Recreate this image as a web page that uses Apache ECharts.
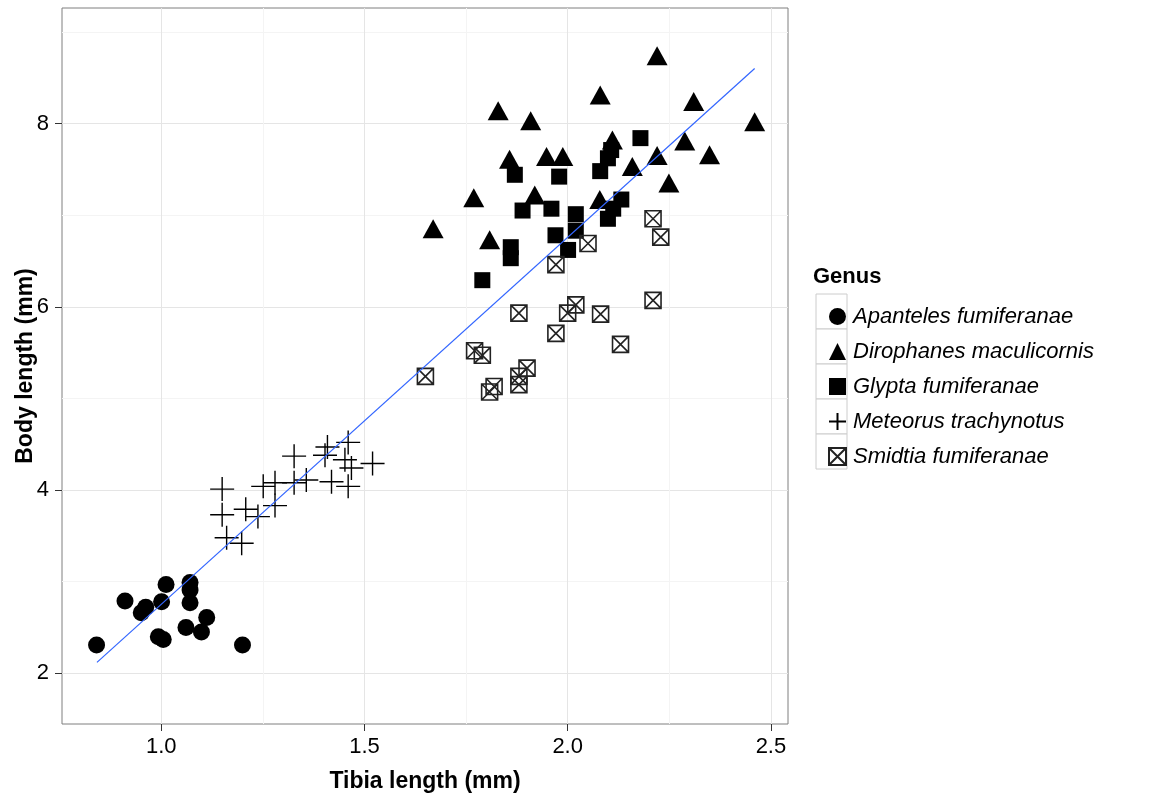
<!DOCTYPE html>
<html>
<head>
<meta charset="utf-8">
<script src="https://cdn.jsdelivr.net/npm/echarts@6/dist/echarts.min.js"></script>
<style>
html,body{margin:0;padding:0;background:#fff;}
#chart{width:1157px;height:799px;}
</style>
</head>
<body>
<div id="chart"></div>
<script>
// ---- Data (tibia length mm, body length mm) ----
const apantelesX = [0.841,0.911,0.951,0.962,1.012,1.001,0.993,1.005,1.061,1.071,1.071,1.071,1.099,1.112,1.200];
const apantelesY = [2.31,2.79,2.66,2.72,2.97,2.78,2.40,2.37,2.50,2.99,2.91,2.77,2.45,2.61,2.31];

const dirophanesX = [1.669,1.769,1.808,1.829,1.857,1.909,1.919,1.948,1.988,2.079,2.080,2.110,2.159,2.220,2.220,2.249,2.288,2.310,2.349,2.460];
const dirophanesY = [6.85,7.19,6.73,8.14,7.61,8.03,7.22,7.64,7.64,7.17,8.31,7.82,7.53,8.74,7.65,7.35,7.81,8.24,7.66,8.02];

const glyptaX = [1.790,1.860,1.860,1.870,1.889,1.960,1.970,1.979,2.001,2.020,2.020,2.080,2.099,2.107,2.099,2.112,2.132,2.179];
const glyptaY = [6.29,6.65,6.53,7.44,7.05,7.07,6.78,7.42,6.62,7.01,6.83,7.48,7.62,7.71,6.96,7.07,7.17,7.84];

const meteorusX = [1.150,1.150,1.161,1.198,1.208,1.238,1.251,1.280,1.280,1.327,1.327,1.357,1.409,1.403,1.419,1.460,1.452,1.468,1.460,1.520];
const meteorusY = [4.01,3.73,3.48,3.42,3.79,3.71,4.04,4.08,3.83,4.37,4.08,4.11,4.47,4.38,4.09,4.52,4.33,4.24,4.04,4.29];

const smidtiaX = [1.650,1.771,1.790,1.808,1.819,1.880,1.880,1.880,1.900,1.971,1.971,2.000,2.020,2.050,2.081,2.130,2.210,2.210,2.229];
const smidtiaY = [5.24,5.52,5.47,5.07,5.13,5.93,5.24,5.15,5.33,6.46,5.71,5.93,6.02,6.69,5.92,5.59,6.96,6.07,6.76];

// fitted line endpoints
const fitX = [0.842, 2.460];
const fitY = [2.12, 8.60];

const genusNames = ['Apanteles fumiferanae','Dirophanes maculicornis','Glypta fumiferanae','Meteorus trachynotus','Smidtia fumiferanae'];
const xTicks = [1.0, 1.5, 2.0, 2.5];
const xMinor = [1.25, 1.75, 2.25];
const yTicks = [2, 4, 6, 8];
const yMinor = [3, 5, 7, 9];

const zip = (a, b) => a.map((v, i) => [v, b[i]]);

const XMIN = 0.756, XMAX = 2.542, YMIN = 1.447, YMAX = 9.26;
const FONT = 'Liberation Sans';

const plusPath = 'path://M10,0 L10,20 M0,10 L20,10';
const boxXPath = 'path://M0,0 L20,0 L20,20 L0,20 Z M0,0 L20,20 M20,0 L0,20';

const chart = echarts.init(document.getElementById('chart'), null, {renderer: 'canvas'});

const gridBox = {left: 62, top: 8, right: 369, bottom: 75};

const option = {
  animation: false,
  backgroundColor: '#fff',
  grid: Object.assign({show: true, borderColor: '#7f7f7f', borderWidth: 1, backgroundColor: 'transparent',
    containLabel: false, outerBoundsMode: 'none'}, gridBox),
  graphic: genusNames.map((n, i) => ({
    type: 'rect', z: 0, silent: true,
    shape: {x: 816, y: 294 + 35 * i, width: 31, height: 35},
    style: {fill: '#fff', stroke: '#cccccc', lineWidth: 1}
  })).concat([{
    type: 'text', left: 813, top: 266, z: 10,
    style: {text: 'Genus', font: 'bold 22px "Liberation Sans"', fill: '#000'}
  }]),
  legend: {
    orient: 'vertical', left: 823, top: 294,
    itemWidth: 17, itemHeight: 17, itemGap: 0,
    z: 5,
    data: genusNames,
    textStyle: {fontFamily: FONT, fontSize: 22, fontStyle: 'italic', color: '#000', lineHeight: 35, padding: [0,0,0,2]},
    selectedMode: false
  },
  xAxis: [{
    type: 'value', min: XMIN, max: XMAX, position: 'bottom',
    name: 'Tibia length (mm)', nameLocation: 'middle', nameGap: 46, nameMoveOverlap: false,
    nameTextStyle: {fontFamily: FONT, fontSize: 23, fontWeight: 'bold', color: '#000'},
    axisLine: {show: false},
    axisTick: {show: true, length: 7, customValues: xTicks, lineStyle: {color: '#333'}},
    axisLabel: {customValues: xTicks, fontFamily: FONT, fontSize: 22, color: '#000', margin: 12,
      formatter: v => v.toFixed(1)},
    splitLine: {show: true, lineStyle: {color: '#e5e5e5', width: 1}}
  }, {
    type: 'value', min: XMIN, max: XMAX, position: 'bottom',
    axisLine: {show: false}, axisLabel: {show: false},
    axisTick: {show: false, customValues: xMinor},
    splitLine: {show: true, lineStyle: {color: '#f4f4f4', width: 1}}
  }],
  yAxis: [{
    type: 'value', min: YMIN, max: YMAX,
    name: 'Body length (mm)', nameLocation: 'middle', nameGap: 25, nameRotate: 90, nameMoveOverlap: false,
    nameTextStyle: {fontFamily: FONT, fontSize: 23, fontWeight: 'bold', color: '#000'},
    axisLine: {show: false},
    axisTick: {show: true, length: 7, customValues: yTicks, lineStyle: {color: '#333'}},
    axisLabel: {customValues: yTicks, fontFamily: FONT, fontSize: 22, color: '#000', margin: 13},
    splitLine: {show: true, lineStyle: {color: '#e5e5e5', width: 1}}
  }, {
    type: 'value', min: YMIN, max: YMAX,
    axisLine: {show: false}, axisLabel: {show: false},
    axisTick: {show: false, customValues: yMinor},
    splitLine: {show: true, lineStyle: {color: '#f4f4f4', width: 1}}
  }],
  series: [
    {name: genusNames[0], type: 'scatter', data: zip(apantelesX, apantelesY), symbol: 'circle', symbolSize: 17,
      itemStyle: {color: '#000', opacity: 1}},
    {name: genusNames[1], type: 'scatter', data: zip(dirophanesX, dirophanesY), symbol: 'triangle', symbolSize: [21, 19],
      itemStyle: {color: '#000', opacity: 1}},
    {name: genusNames[2], type: 'scatter', data: zip(glyptaX, glyptaY), symbol: 'rect', symbolSize: 16,
      itemStyle: {color: '#000', opacity: 1}},
    {name: genusNames[3], type: 'scatter', data: zip(meteorusX, meteorusY), symbol: plusPath, symbolSize: 24,
      itemStyle: {color: 'rgba(0,0,0,0)', borderColor: '#000', borderWidth: 1.4, opacity: 1}},
    {name: genusNames[4], type: 'scatter', data: zip(smidtiaX, smidtiaY), symbol: boxXPath, symbolSize: 16,
      itemStyle: {color: 'rgba(0,0,0,0)', borderColor: '#222', borderWidth: 1.6, opacity: 1}},
    {name: 'fit', type: 'line', data: zip(fitX, fitY), showSymbol: false, symbol: 'none',
      lineStyle: {color: '#3366FF', width: 1.2}, z: 3, silent: true}
  ]
};
chart.setOption(option);
</script>
</body>
</html>
